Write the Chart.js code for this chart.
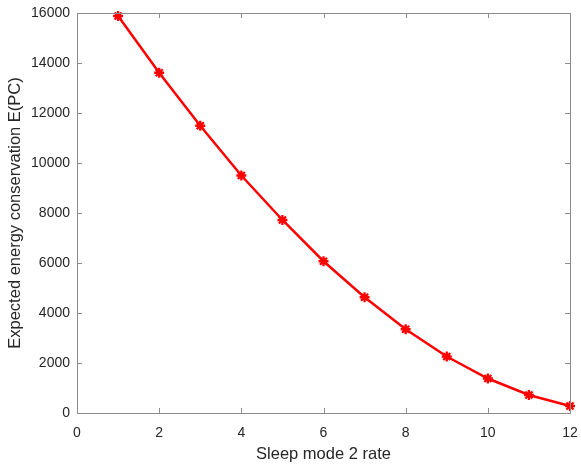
<!DOCTYPE html>
<html>
<head>
<meta charset="utf-8">
<script src="https://cdn.jsdelivr.net/npm/chart.js@4/dist/chart.umd.min.js"></script>
<style>
  html, body { margin: 0; padding: 0; background: #fff; }
  #wrap { width: 581px; height: 467px; }
</style>
</head>
<body>
<div id="wrap"><canvas id="energyChart" width="581" height="467"></canvas></div>
<script>
// --- data ---
const sleepRates = [1, 2, 3, 4, 5, 6, 7, 8, 9, 10, 11, 12];
const energySaved = [15880, 13610, 11490, 9500, 7720, 6070, 4630, 3350, 2260, 1380, 720, 280];
const xTicks = [0, 2, 4, 6, 8, 10, 12];
const yTicks = [0, 2000, 4000, 6000, 8000, 10000, 12000, 14000, 16000];

const axisGrey = '#8c8c8c';
const fontFamily = "'Liberation Sans', Arial, Helvetica, sans-serif";

// box around the plot + inward tick marks on all four sides
const boxTicks = {
    id: 'boxTicks',
    afterDraw(chart) {
        const { ctx, chartArea: a, scales } = chart;
        const len = 5;
        ctx.save();
        ctx.strokeStyle = axisGrey;
        ctx.lineWidth = 1;
        ctx.beginPath();
        ctx.moveTo(a.left, a.top + 0.5);
        ctx.lineTo(a.right + 0.5, a.top + 0.5);
        ctx.lineTo(a.right + 0.5, a.bottom);
        xTicks.forEach(v => {
            const px = Math.round(scales.x.getPixelForValue(v)) + 0.5;
            ctx.moveTo(px, a.bottom);
            ctx.lineTo(px, a.bottom - len);
            ctx.moveTo(px, a.top);
            ctx.lineTo(px, a.top + len);
        });
        yTicks.forEach(v => {
            const py = Math.round(scales.y.getPixelForValue(v)) + 0.5;
            ctx.moveTo(a.left, py);
            ctx.lineTo(a.left + len, py);
            ctx.moveTo(a.right, py);
            ctx.lineTo(a.right - len, py);
        });
        ctx.stroke();
        ctx.restore();
    }
};

new Chart(document.getElementById('energyChart'), {
    type: 'line',
    data: {
        datasets: [{
            data: sleepRates.map((x, i) => ({ x: x, y: energySaved[i] })),
            borderColor: '#ff0000',
            backgroundColor: '#ff0000',
            borderWidth: 2.5,
            tension: 0,
            pointStyle: 'star',
            pointRadius: 5,
            pointBorderWidth: 2.3,
            pointBorderColor: '#ff0000',
            clip: 10
        }]
    },
    options: {
        responsive: false,
        animation: false,
        layout: { padding: { top: 13, right: 11, left: 0, bottom: 0 } },
        plugins: { legend: { display: false }, tooltip: { enabled: false } },
        scales: {
            x: {
                type: 'linear',
                min: 0,
                max: 12,
                afterBuildTicks: s => { s.ticks = xTicks.map(v => ({ value: v })); },
                afterFit: s => { s.height = 54; s.paddingLeft = 0; s.paddingRight = 0; },
                grid: { display: false, drawTicks: false },
                border: { display: true, color: axisGrey, width: 1 },
                ticks: {
                    color: '#262626',
                    padding: 12,
                    maxRotation: 0,
                    font: { family: fontFamily, size: 14 }
                },
                title: {
                    display: true,
                    text: 'Sleep mode 2 rate',
                    color: '#262626',
                    padding: { top: 0, bottom: 3 },
                    font: { family: fontFamily, size: 16.5 }
                }
            },
            y: {
                min: 0,
                max: 16000,
                afterBuildTicks: s => { s.ticks = yTicks.map(v => ({ value: v })); },
                afterFit: s => { s.width = 77; s.paddingTop = 0; s.paddingBottom = 0; },
                grid: { display: false, drawTicks: false },
                border: { display: true, color: axisGrey, width: 1 },
                ticks: {
                    color: '#262626',
                    padding: 7,
                    font: { family: fontFamily, size: 14 },
                    callback: v => String(v)
                },
                title: {
                    display: true,
                    text: 'Expected energy conservation E(PC)',
                    color: '#262626',
                    padding: { top: 6, bottom: 0 },
                    font: { family: fontFamily, size: 16.5 }
                }
            }
        }
    },
    plugins: [boxTicks]
});
</script>
</body>
</html>
